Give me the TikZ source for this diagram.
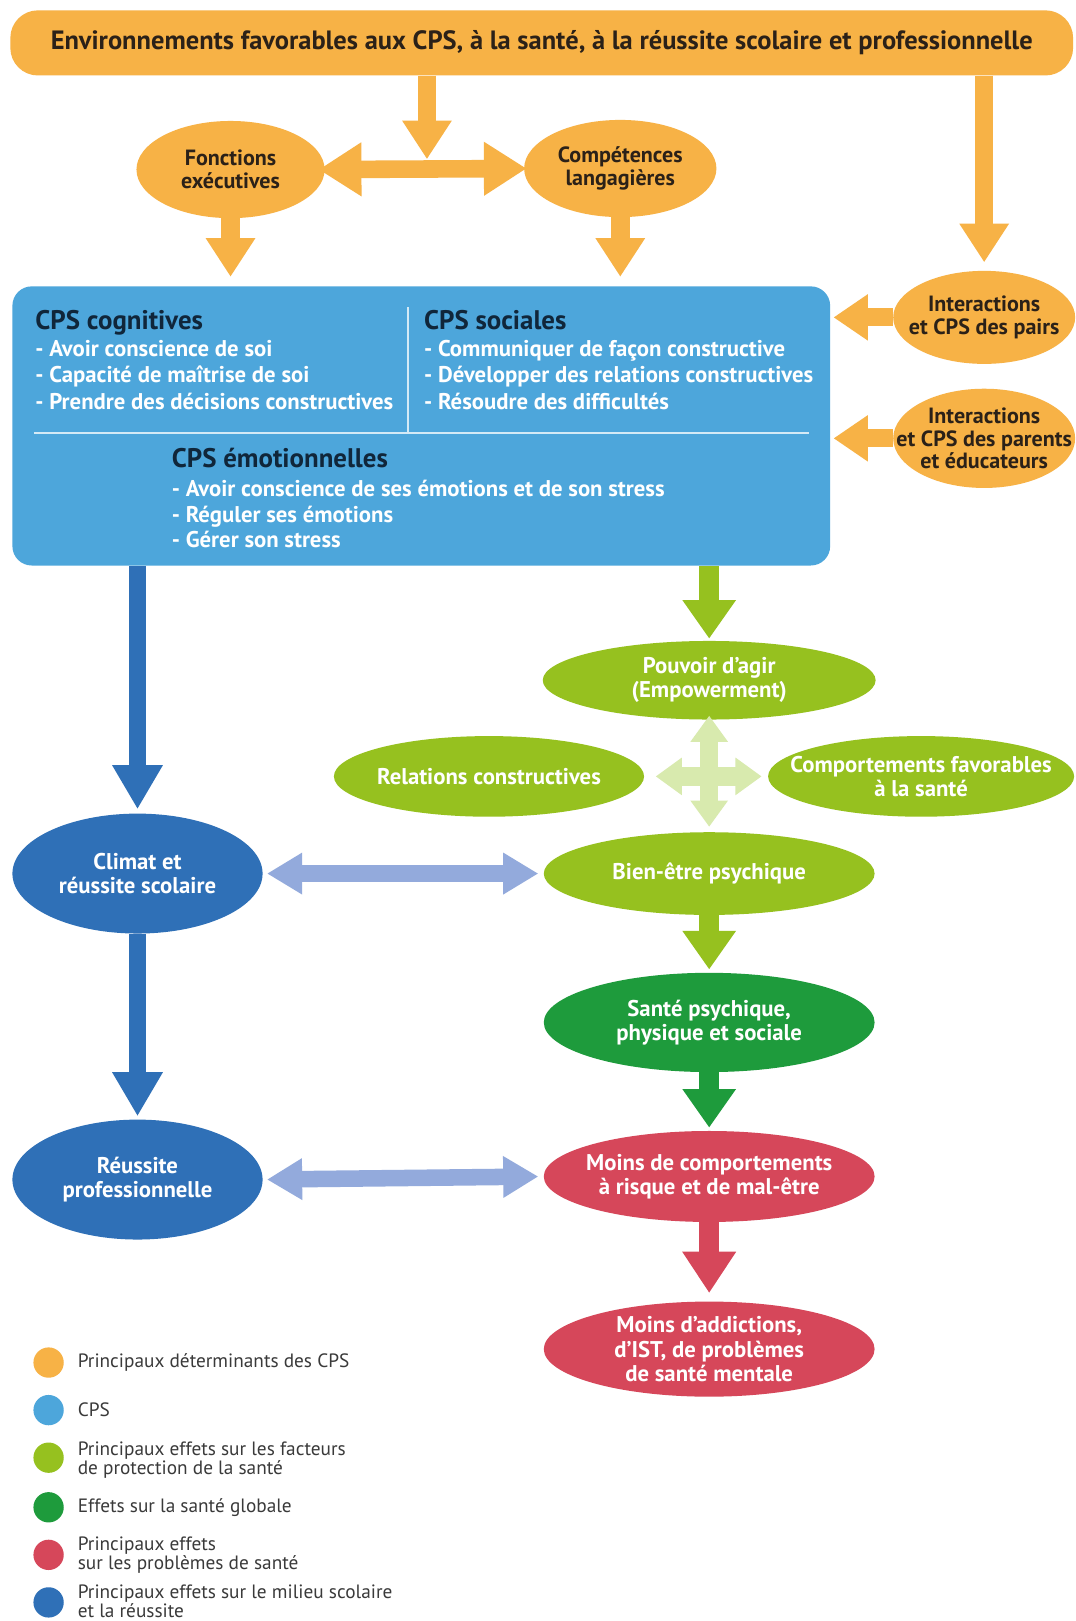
\documentclass[tikz,border=0pt]{standalone}
\usepackage{fontspec}
\setmainfont{PT Sans}
\usetikzlibrary{shapes.geometric,arrows.meta}
\definecolor{org}{HTML}{F7B246}
\definecolor{cpsblue}{HTML}{4DA6DB}
\definecolor{lgreen}{HTML}{96C11F}
\definecolor{dgreen}{HTML}{1E9B3C}
\definecolor{redc}{HTML}{D6475A}
\definecolor{dblue}{HTML}{2F70B7}
\definecolor{peri}{HTML}{93AADC}
\definecolor{crossg}{HTML}{D8EAAE}
\definecolor{darktxt}{HTML}{2B2118}
\definecolor{headtxt}{HTML}{10263A}
\definecolor{legtxt}{HTML}{3A3A3A}
\definecolor{divline}{HTML}{D4EAF6}
\tikzset{
  ell/.style={ellipse, inner xsep=-25pt, inner ysep=-10pt, align=center, font=\bfseries\fontsize{16.5}{17.5}\selectfont},
  orgell/.style={ell, fill=org, text=darktxt, font=\bfseries\fontsize{16}{16.5}\selectfont},
  lgell/.style={ell, fill=lgreen, text=white},
  dgell/.style={ell, fill=dgreen, text=white},
  redell/.style={ell, fill=redc, text=white},
  dbell/.style={ell, fill=dblue, text=white},
  head/.style={anchor=base west, inner sep=0pt, text=headtxt, font=\bfseries\fontsize{19.5}{22}\selectfont},
  item/.style={anchor=base west, inner sep=0pt, text=white, font=\bfseries\fontsize{16.5}{18}\selectfont},
  orgarrow/.style={draw=org, line width=13.5pt, -{Triangle[width=34pt,length=28pt]}},
  orgdbl/.style={draw=org, line width=12.75pt, {Triangle[width=37pt,length=31pt]}-{Triangle[width=37pt,length=31pt]}},
  orgside/.style={draw=org, line width=13pt, -{Triangle[width=32pt,length=25pt]}},
  dbarrow/.style={draw=dblue, line width=12pt, -{Triangle[width=34.5pt,length=32pt]}},
  lgarrow/.style={draw=lgreen, line width=14.5pt, -{Triangle[width=37pt,length=28pt]}},
  dgarrow/.style={draw=dgreen, line width=14.5pt, -{Triangle[width=37pt,length=28pt]}},
  redarrow/.style={draw=redc, line width=14.5pt, -{Triangle[width=37pt,length=30pt]}},
  peridbl/.style={draw=peri, line width=12pt, {Triangle[width=28.5pt,length=25.5pt]}-{Triangle[width=28.5pt,length=25.5pt]}},
  crossdbl/.style={draw=crossg, line width=13.5pt, {Triangle[width=26pt,length=19pt]}-{Triangle[width=26pt,length=19pt]}},
  legdot/.style={circle, inner sep=0pt, minimum size=22pt},
  legtext/.style={anchor=west, inner sep=0pt, align=left, text=legtxt, font=\fontsize{14}{12.8}\selectfont},
}
\begin{document}
\begin{tikzpicture}[x=0.75pt,y=-0.75pt]
\useasboundingbox (0,0) rectangle (1040,1568);
\fill[white] (0,0) rectangle (1040,1568);

% top bar
\node[rectangle, rounded corners=20pt, fill=org, minimum width=771pt, minimum height=47.25pt, inner sep=0pt,
  text=darktxt, font=\bfseries\fontsize{19.2}{21}\selectfont] (bar) at (524,41.5)
  {Environnements favorables aux CPS, à la santé, à la réussite scolaire et professionnelle};

% orange ellipses
\node[orgell, minimum width=136.5pt, minimum height=70.5pt] (fonc) at (223,164) {Fonctions\\exécutives};
\node[orgell, minimum width=139.5pt, minimum height=70.5pt] (comp) at (600,163) {Compétences\\langagières};
\node[orgell, minimum width=132pt, minimum height=67.5pt] (pairs) at (952,307) {Interactions\\et CPS des pairs};
\node[orgell, minimum width=132pt, minimum height=72pt] (parents) at (952,424) {Interactions\\et CPS des parents\\et éducateurs};

% CPS box
\node[rectangle, rounded corners=14pt, fill=cpsblue, minimum width=593.25pt, minimum height=202.5pt, inner sep=0pt] (cps) at (407.5,412) {};
\draw[divline, line width=1.5pt] (395,297) -- (395,419);
\draw[divline, line width=1.5pt] (33,419) -- (783,419);

\node[head] (hcog) at (34,319) {CPS cognitives};
\node[item] (c1) at (34,345) {- Avoir conscience de soi};
\node[item] (c2) at (34,370) {- Capacité de maîtrise de soi};
\node[item] (c3) at (34,396) {- Prendre des décisions constructives};
\node[head] (hsoc) at (410,319) {CPS sociales};
\node[item] (s1) at (410,345) {- Communiquer de façon constructive};
\node[item] (s2) at (410,370) {- Développer des relations constructives};
\node[item] (s3) at (410,396) {- Résoudre des difficultés};
\node[head] (hemo) at (166,452) {CPS émotionnelles};
\node[item] (e1) at (166,480) {- Avoir conscience de ses émotions et de son stress};
\node[item] (e2) at (166,505) {- Réguler ses émotions};
\node[item] (e3) at (166,530) {- Gérer son stress};

% green / other ellipses
\node[lgell, minimum width=241.5pt, minimum height=57pt] (pouv) at (686,658) {Pouvoir d’agir\\(Empowerment)};
\node[lgell, minimum width=225pt, minimum height=58.5pt] (rel) at (473,751) {Relations constructives};
\node[lgell, minimum width=222pt, minimum height=58.5pt] (compf) at (891,751) {Comportements favorables\\à la santé};
\node[lgell, minimum width=240pt, minimum height=60pt] (bien) at (686,845) {Bien-être psychique};
\node[dgell, minimum width=240pt, minimum height=72pt] (sante) at (686,989) {Santé psychique,\\physique et sociale};
\node[redell, minimum width=240pt, minimum height=66pt] (moins) at (686,1138) {Moins de comportements\\à risque et de mal-être};
\node[redell, minimum width=240pt, minimum height=69pt] (addic) at (686,1305) {Moins d’addictions,\\d’IST, de problèmes\\de santé mentale};
\node[dbell, minimum width=181.5pt, minimum height=87pt] (climat) at (133,845) {Climat et\\réussite scolaire};
\node[dbell, minimum width=181.5pt, minimum height=87pt] (reuss) at (133,1141) {Réussite\\professionnelle};

% connectors
\coordinate (hj) at (413,154);
\draw[orgarrow] (bar.south -| hj) -- (hj);
\draw[orgdbl, shorten <=-4.5pt, shorten >=-2pt] (fonc.east) -- (comp.west);
\draw[orgarrow, shorten >=6.75pt] (fonc.south) -- (fonc.south |- cps.north);
\draw[orgarrow, shorten >=6.75pt] (comp.south) -- (comp.south |- cps.north);
\draw[orgarrow, shorten >=6pt] (bar.south -| pairs) -- (pairs.north);
\draw[orgside, shorten >=2.25pt] (pairs.west) -- (pairs.west -| cps.east);
\draw[orgside, shorten >=2.25pt] (parents.west) -- (parents.west -| cps.east);

\draw[dbarrow, shorten >=3pt] (cps.south -| climat) -- (climat.north);
\draw[lgarrow, shorten >=1.5pt] (cps.south -| pouv) -- (pouv.north);
\draw[crossdbl, shorten <=-3pt, shorten >=3.75pt] (pouv.south) -- (bien.north);
\draw[crossdbl, shorten <=8.25pt, shorten >=4.5pt] (rel.east) -- (compf.west);
\draw[peridbl, shorten <=3pt, shorten >=3.75pt] (climat.east) -- (bien.west);
\draw[lgarrow, shorten >=2.25pt] (bien.south) -- (sante.north);
\draw[dgarrow, shorten >=2.25pt] (sante.south) -- (moins.north);
\draw[dbarrow, shorten >=2.25pt] (climat.south) -- (reuss.north);
\draw[peridbl, shorten <=3pt, shorten >=3.75pt] (reuss.east) -- (moins.west);
\draw[redarrow, shorten >=6pt] (moins.south) -- (addic.north);

% legend
\node[legdot, fill=org] (l1) at (47,1318) {};
\node[legdot, fill=cpsblue] (l2) at (47,1364) {};
\node[legdot, fill=lgreen] (l3) at (47,1410) {};
\node[legdot, fill=dgreen] (l4) at (47,1458) {};
\node[legdot, fill=redc] (l5) at (47,1504) {};
\node[legdot, fill=dblue] (l6) at (47,1550) {};
\node[legtext] (t1) at (75,1318) {Principaux déterminants des CPS};
\node[legtext] (t2) at (75,1364) {CPS};
\node[legtext] (t3) at (75,1412) {Principaux effets sur les facteurs\\de protection de la santé};
\node[legtext] (t4) at (75,1458) {Effets sur la santé globale};
\node[legtext] (t5) at (75,1504) {Principaux effets\\sur les problèmes de santé};
\node[legtext] (t6) at (75,1549) {Principaux effets sur le milieu scolaire\\et la réussite};
\end{tikzpicture}
\end{document}
